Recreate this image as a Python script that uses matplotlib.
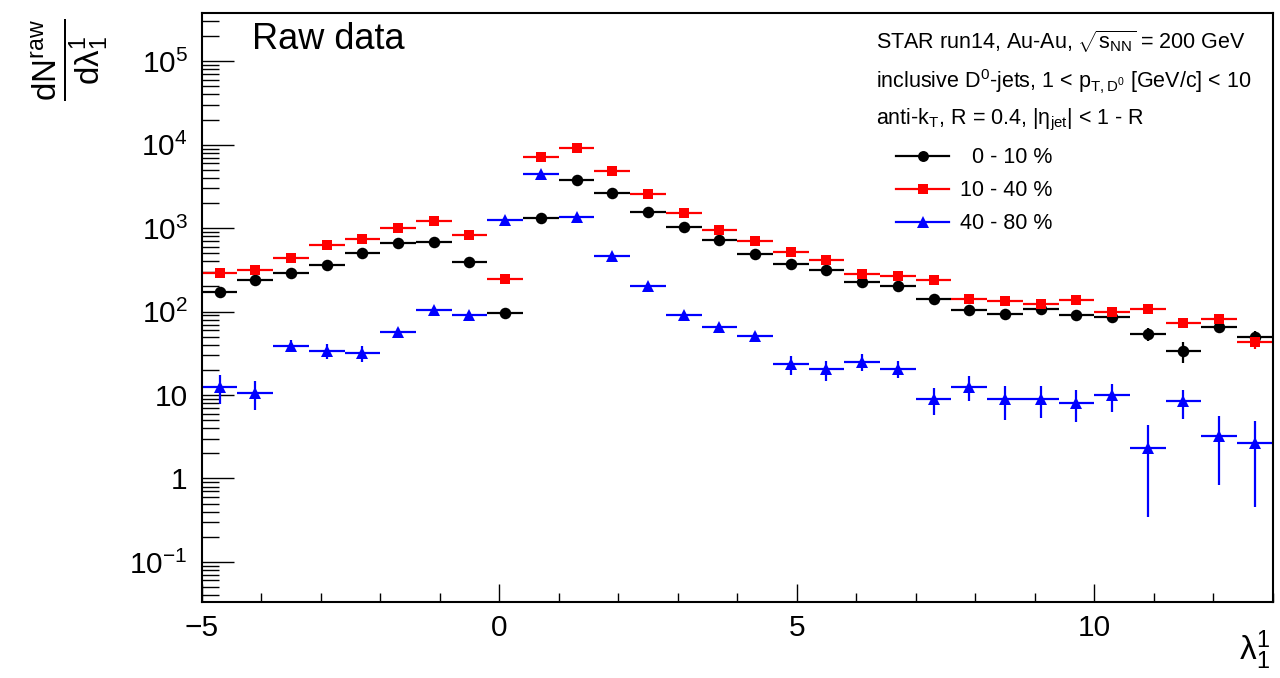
import numpy as np
import matplotlib
matplotlib.use("Agg")
import matplotlib.pyplot as plt
from matplotlib.lines import Line2D
from matplotlib.ticker import FixedLocator, FuncFormatter, MultipleLocator

plt.rcParams["font.family"] = ["Liberation Sans", "DejaVu Sans"]
plt.rcParams["mathtext.fontset"] = "custom"
plt.rcParams["mathtext.rm"] = "Liberation Sans"
plt.rcParams["mathtext.it"] = "Liberation Sans:italic"
plt.rcParams["mathtext.sf"] = "Liberation Sans"
plt.rcParams["mathtext.bf"] = "Liberation Sans:bold"

# lambda_1^1 bin centres (bin width 0.6 on [-5, 13])
lam_centers = [-4.7, -4.1, -3.5, -2.9, -2.3, -1.7, -1.1, -0.5, 0.1, 0.7,
               1.3, 1.9, 2.5, 3.1, 3.7, 4.3, 4.9, 5.5, 6.1, 6.7,
               7.3, 7.9, 8.5, 9.1, 9.7, 10.3, 10.9, 11.5, 12.1, 12.7]
half_width = 0.3

# 0 - 10 % centrality
cent0_10 = [173, 240, 292, 364, 507, 656, 687, 388, 97.5, 1309,
            3800, 2636, 1544, 1030, 719, 493, 374, 311, 226, 200,
            140, 105, 93, 107, 91, 85, 54, 34, 66, 50]
cent0_10_err = [10, 12, 13, 15, 18, 20, 21, 16, 8, 28,
                50, 40, 32, 26, 22, 18, 16, 15, 13, 12,
                10, 9, 8, 9, 8, 8, 9, 9.5, 9, 8]

# 10 - 40 % centrality
cent10_40 = [289, 317, 433, 621, 747, 1003, 1205, 826, 249, 7040,
             9200, 4790, 2535, 1517, 948, 700, 521, 421, 286, 268,
             240, 141, 135, 124, 138, 99, 107, 74, 81, 43]
cent10_40_err = [14, 15, 17, 20, 22, 25, 28, 23, 13, 65,
                 75, 55, 40, 31, 25, 21, 18, 16, 14, 13,
                 13, 10, 10, 9, 10, 8, 9, 8, 8, 7]

# 40 - 80 % centrality
cent40_80 = [12.6, 10.7, 39, 34, 32, 57, 105, 90, 1262, 4490,
             1345, 463, 202, 92, 64.5, 51.7, 23.5, 20.4, 25.2, 20.8,
             9.0, 12.6, 9.0, 9.0, 8.1, 10.0, 2.35, 8.4, 3.24, 2.65]
cent40_80_err = [4.8, 4.0, 6.5, 7, 7, 6, 8, 8, 28, 50,
                 28, 16, 11, 8, 7, 6, 6, 5.5, 6, 5,
                 3.3, 4.2, 4, 3.7, 3.4, 3.7, 2.0, 3.2, 2.4, 2.2]

labels = ["  0 - 10 %", "10 - 40 %", "40 - 80 %"]
colors = ["black", "#ff0000", "#0000ff"]
markers = ["o", "s", "^"]
msizes = [8.3, 7.8, 8.6]

fig = plt.figure(figsize=(12.8, 6.78), dpi=100)
ax = fig.add_axes([0.1576, 0.1126, 0.8367, 0.8678])

series = [(cent0_10, cent0_10_err), (cent10_40, cent10_40_err), (cent40_80, cent40_80_err)]
for (vals, errs), col, mk, ms in zip(series, colors, markers, msizes):
    ax.errorbar(lam_centers, vals, yerr=errs, xerr=half_width, fmt=mk,
                color=col, ms=ms, elinewidth=1.6, capsize=0, mew=0)

ax.set_xlim(-5, 13)
ax.set_yscale("log")
ax.set_ylim(0.0334, 3.76e5)

# axis styling
for s in ax.spines.values():
    s.set_linewidth(1.5)
ax.xaxis.set_major_locator(FixedLocator([-5, 0, 5, 10]))
ax.xaxis.set_minor_locator(MultipleLocator(1))
ax.xaxis.set_major_formatter(FuncFormatter(lambda v, p: "\u2212%d" % abs(v) if v < 0 else "%d" % v))
ax.tick_params(axis="x", which="major", direction="in", length=12.7, width=1.0,
               labelsize=21.5, pad=9, top=False)
ax.tick_params(axis="x", which="minor", direction="in", length=6.5, width=1.0, top=False)

ylabels = {0.1: r"$10^{-1}$", 1: "1", 10: "10", 100: r"$10^{2}$",
           1e3: r"$10^{3}$", 1e4: r"$10^{4}$", 1e5: r"$10^{5}$"}
ax.yaxis.set_major_locator(FixedLocator(list(ylabels.keys())))
ax.yaxis.set_major_formatter(FuncFormatter(lambda v, p: ylabels.get(round(v, 6), "")))
ax.yaxis.set_minor_locator(matplotlib.ticker.LogLocator(base=10, subs=np.arange(2, 10), numticks=20))
ax.yaxis.set_minor_formatter(matplotlib.ticker.NullFormatter())
ax.tick_params(axis="y", which="major", direction="in", length=23, width=1.0,
               labelsize=21.5, pad=10, right=False)
ax.tick_params(axis="y", which="minor", direction="in", length=12, width=1.0, right=False)

# axis titles
fig.text(0.0547, 0.912, r"$\frac{\mathrm{dN}^{\mathrm{raw}}}{\mathrm{d\lambda}^{1}_{1}}$",
         rotation=90, ha="center", va="center", fontsize=34)
ax.text(0.983, -0.083, r"$\mathrm{\lambda}^{1}_{1}$", transform=ax.transAxes,
        ha="center", va="center", fontsize=24)

ax.text(0.0467, 0.955, "Raw data", transform=ax.transAxes, ha="left",
        va="center", fontsize=26)

info_x = 0.630
info_fs = 15.5
ax.text(info_x, 0.952, r"STAR run14, Au-Au, $\sqrt{\mathrm{s}_{\mathrm{NN}}}$ = 200 GeV",
        transform=ax.transAxes, ha="left", va="center", fontsize=info_fs)
ax.text(info_x, 0.884, r"inclusive D$^{0}$-jets, 1 < p$_{\mathrm{T,D^{0}}}$ [GeV/c] < 10",
        transform=ax.transAxes, ha="left", va="center", fontsize=info_fs)
ax.text(info_x, 0.819, r"anti-k$_{\mathrm{T}}$, R = 0.4, |$\mathrm{\eta}_{\mathrm{jet}}$| < 1 - R",
        transform=ax.transAxes, ha="left", va="center", fontsize=info_fs)

handles = [Line2D([0], [0], color=c, marker=m, ms=ms * 0.95, lw=1.6, mew=0)
           for c, m, ms in zip(colors, markers, msizes)]
ax.legend(handles, labels, loc="upper left", bbox_to_anchor=(0.6485, 0.772),
          frameon=False, fontsize=info_fs, handlelength=2.45, handletextpad=0.5,
          labelspacing=0.55, borderpad=0, borderaxespad=0)

fig.savefig("out.png", dpi=100)
